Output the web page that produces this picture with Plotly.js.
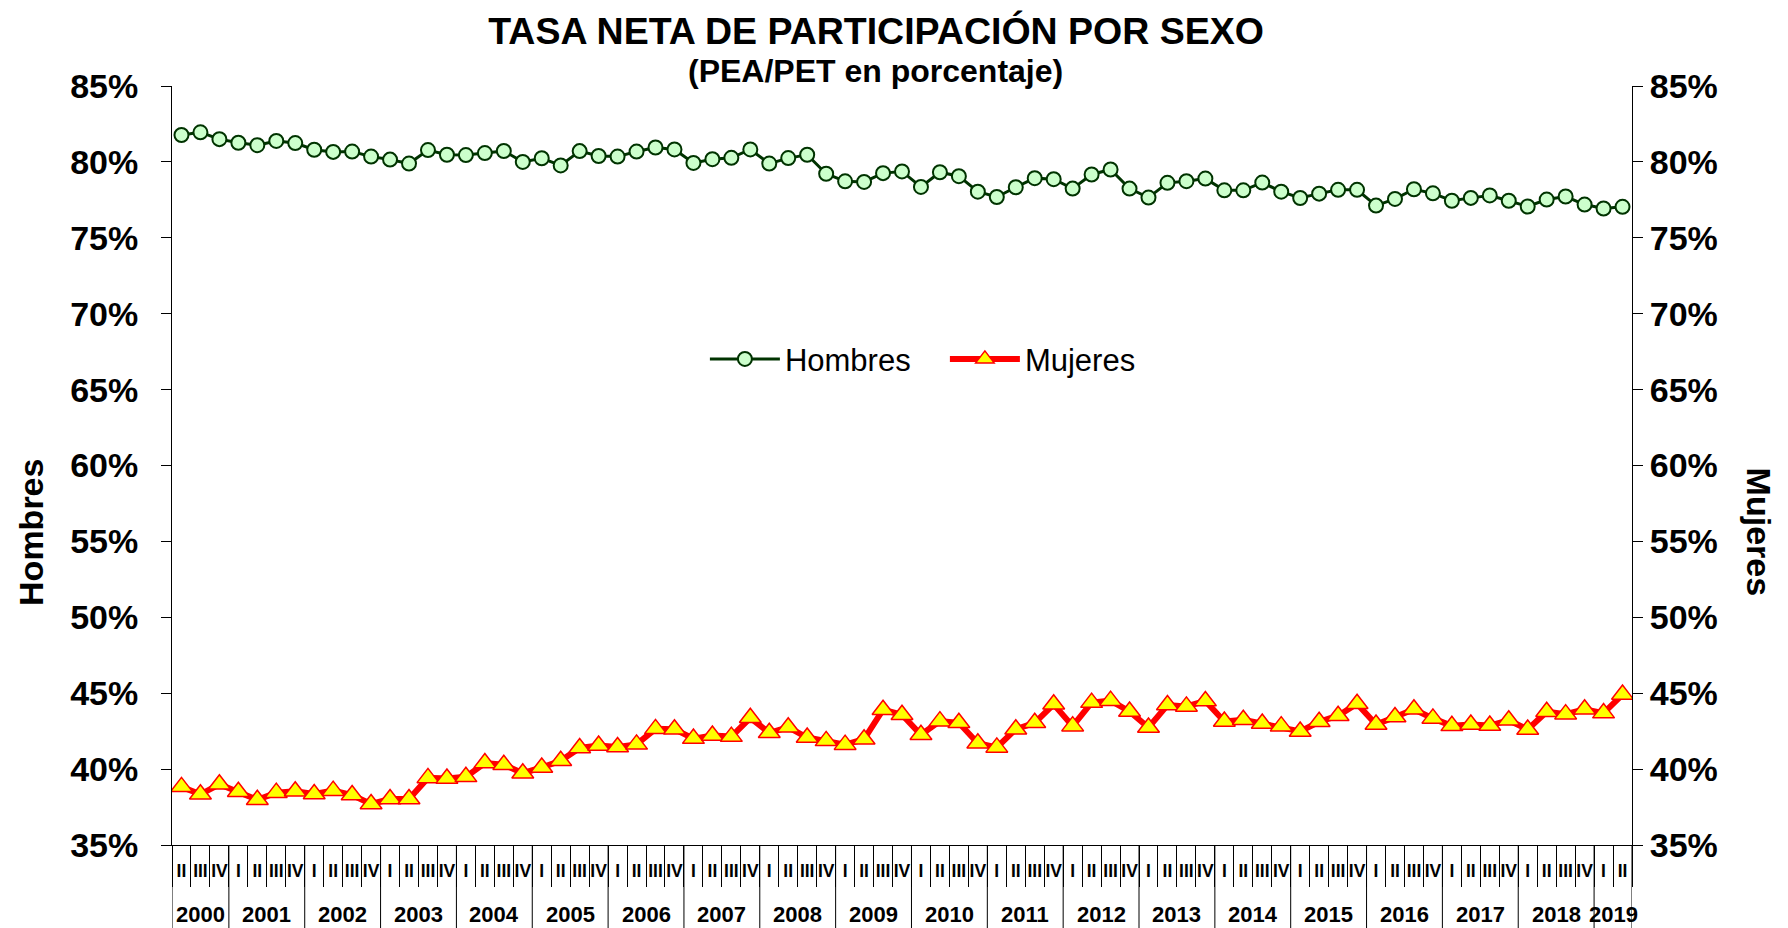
<!DOCTYPE html>
<html><head><meta charset="utf-8">
<script src="https://cdn.plot.ly/plotly-3.0.1.min.js"></script>
<style>html,body{margin:0;padding:0;background:#fff;} #chart{width:1788px;height:928px;}</style>
</head><body><div id="chart"></div>
<script>
const years = [
'2000','2000','2000',
'2001','2001','2001','2001',
'2002','2002','2002','2002',
'2003','2003','2003','2003',
'2004','2004','2004','2004',
'2005','2005','2005','2005',
'2006','2006','2006','2006',
'2007','2007','2007','2007',
'2008','2008','2008','2008',
'2009','2009','2009','2009',
'2010','2010','2010','2010',
'2011','2011','2011','2011',
'2012','2012','2012','2012',
'2013','2013','2013','2013',
'2014','2014','2014','2014',
'2015','2015','2015','2015',
'2016','2016','2016','2016',
'2017','2017','2017','2017',
'2018','2018','2018','2018',
'2019','2019'
];
const quarters = [
'II','III','IV',
'I','II','III','IV',
'I','II','III','IV',
'I','II','III','IV',
'I','II','III','IV',
'I','II','III','IV',
'I','II','III','IV',
'I','II','III','IV',
'I','II','III','IV',
'I','II','III','IV',
'I','II','III','IV',
'I','II','III','IV',
'I','II','III','IV',
'I','II','III','IV',
'I','II','III','IV',
'I','II','III','IV',
'I','II','III','IV',
'I','II','III','IV',
'I','II','III','IV',
'I','II'
];
const hombres = [
81.77,81.95,81.50,
81.26,81.10,81.38,81.24,
80.80,80.66,80.68,80.35,
80.15,79.89,80.78,80.47,
80.45,80.58,80.72,80.00,
80.24,79.77,80.71,80.39,
80.35,80.68,80.95,80.82,
79.93,80.18,80.27,80.82,
79.89,80.25,80.47,79.22,
78.72,78.68,79.26,79.37,
78.35,79.32,79.06,78.04,
77.69,78.33,78.93,78.86,
78.24,79.17,79.50,78.24,
77.65,78.62,78.73,78.90,
78.13,78.13,78.64,78.04,
77.62,77.91,78.16,78.16,
77.12,77.56,78.20,77.93,
77.44,77.63,77.79,77.44,
77.06,77.52,77.72,77.19,
76.93,77.04
];
const mujeres = [
38.83,38.34,39.00,
38.51,37.98,38.45,38.54,
38.36,38.58,38.29,37.70,
38.03,38.03,39.42,39.38,
39.49,40.40,40.29,39.73,
40.11,40.55,41.39,41.55,
41.46,41.63,42.65,42.63,
42.01,42.21,42.14,43.38,
42.39,42.76,42.08,41.86,
41.61,41.97,43.91,43.58,
42.26,43.16,43.05,41.70,
41.43,42.63,43.05,44.27,
42.83,44.38,44.51,43.80,
42.74,44.22,44.13,44.49,
43.14,43.25,43.00,42.83,
42.48,43.12,43.52,44.31,
42.94,43.43,43.94,43.34,
42.85,42.94,42.87,43.22,
42.61,43.78,43.62,43.94,
43.69,44.91
];

const FONT = 'Liberation Sans, Arial, sans-serif';
const cats = years.map((y, i) => y + '-' + quarters[i]);
const n = cats.length;

// year groups
const groups = [];
years.forEach((y, i) => {
  if (i === 0 || y !== years[i - 1]) groups.push({year: y, first: i, last: i});
  else groups[groups.length - 1].last = i;
});

const traces = [
  {
    x: cats, y: hombres, name: 'Hombres', type: 'scatter', mode: 'lines+markers',
    line: {color: '#003300', width: 3},
    marker: {symbol: 'circle', size: 14, color: '#CCFFCC', line: {color: '#003300', width: 2}},
    yaxis: 'y', hoverinfo: 'skip'
  },
  {
    x: cats, y: mujeres, name: 'Mujeres', type: 'scatter', mode: 'lines+markers',
    line: {color: '#FF0000', width: 6},
    marker: {symbol: 'triangle-up', size: 19, color: '#FFFF00', line: {color: '#FF0000', width: 1.5}},
    yaxis: 'y2', hoverinfo: 'skip'
  }
];

const yAxisCommon = {
  range: [35, 85], tick0: 35, dtick: 5, ticksuffix: '%',
  ticks: 'outside', ticklen: 10, tickwidth: 1, tickcolor: '#000',
  showline: true, linecolor: '#000', linewidth: 1,
  showgrid: false, zeroline: false, fixedrange: true,
  tickfont: {family: FONT, size: 34, weight: 'bold', color: '#000'}
};

const shapes = [];
const bounds = [-0.5].concat(groups.slice(1).map(g => g.first - 0.5)).concat([n - 0.5]);
bounds.forEach(b => shapes.push({
  type: 'line', xref: 'x', yref: 'paper', x0: b, x1: b, y0: 0, y1: -0.11,
  line: {color: '#000', width: 1}
}));

const annotations = [
  {text: '(PEA/PET en porcentaje)', xref: 'paper', yref: 'paper', x: 0.482, y: 1.0198,
   xanchor: 'center', yanchor: 'middle', showarrow: false,
   font: {family: FONT, size: 32, weight: 'bold', color: '#000'}},
  {text: 'Hombres', xref: 'paper', yref: 'paper', x: -0.0965, y: 0.4113, textangle: -90,
   xanchor: 'center', yanchor: 'middle', showarrow: false,
   font: {family: FONT, size: 34, weight: 'bold', color: '#000'}},
  {text: 'Mujeres', xref: 'paper', yref: 'paper', x: 1.0871, y: 0.4127, textangle: 90,
   xanchor: 'center', yanchor: 'middle', showarrow: false,
   font: {family: FONT, size: 34, weight: 'bold', color: '#000'}}
].concat(groups.map(g => ({
  text: g.year, xref: 'x', yref: 'paper', x: (g.first + g.last) / 2, y: -0.092,
  xanchor: 'center', yanchor: 'middle', showarrow: false,
  font: {family: FONT, size: 22, weight: 'bold', color: '#000'}
})));

const layout = {
  width: 1788, height: 928,
  margin: {l: 172, r: 156, t: 86, b: 83, pad: 0},
  paper_bgcolor: '#fff', plot_bgcolor: '#fff',
  hovermode: false,
  showlegend: true,
  legend: {orientation: 'h', x: 0.365, y: 0.64, xanchor: 'left', yanchor: 'middle',
    itemwidth: 70, entrywidth: 155, entrywidthmode: 'pixels',
    font: {family: FONT, size: 31, color: '#000'}, bgcolor: 'rgba(0,0,0,0)'},
  title: {text: 'TASA NETA DE PARTICIPACIÓN POR SEXO', x: 0.49, xanchor: 'center',
    y: 1 - 31 / 928, yanchor: 'middle',
    font: {family: FONT, size: 37.5, weight: 'bold', color: '#000'}},
  xaxis: {
    type: 'category', range: [-0.5, n - 0.5],
    tickmode: 'array', tickvals: cats, ticktext: quarters,
    tickson: 'boundaries', ticks: 'outside', ticklen: 41, tickwidth: 1, tickcolor: '#000',
    showline: true, linecolor: '#000', linewidth: 1,
    showgrid: false, zeroline: false, tickangle: 0, fixedrange: true,
    tickfont: {family: FONT, size: 17.5, weight: 'bold', color: '#000'},
    ticklabelstandoff: 10
  },
  yaxis: Object.assign({}, yAxisCommon, {side: 'left', ticklabelstandoff: 16}),
  yaxis2: Object.assign({}, yAxisCommon, {side: 'right', overlaying: 'y', ticklabelstandoff: 0}),
  shapes: shapes,
  annotations: annotations
};

Plotly.newPlot('chart', traces, layout, {displayModeBar: false, staticPlot: true});
</script>
</body></html>
